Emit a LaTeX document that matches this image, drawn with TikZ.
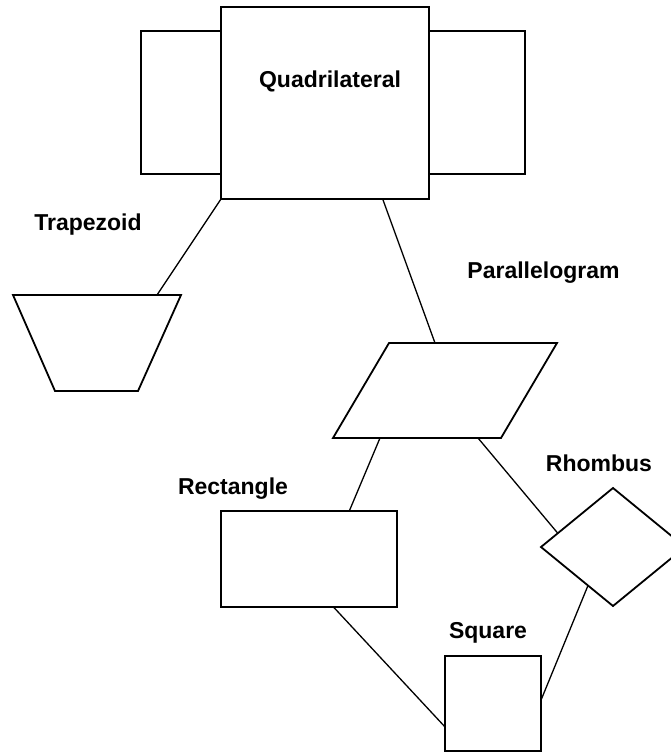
\documentclass[tikz,border=0pt]{standalone}
\usepackage{fontspec}
\setmainfont{Liberation Sans}
\usetikzlibrary{shapes.geometric}
\tikzset{
    boxnode/.style={rectangle, draw, line width=2pt, fill=white, inner sep=0pt, outer sep=0pt},
    slantshape/.style={draw, line width=1.8pt, fill=white, line join=miter},
    rhombnode/.style={diamond, draw, line width=1.8pt, fill=white, inner sep=0pt, outer sep=0pt},
    lbl/.style={anchor=base, font=\fontsize{23}{27}\selectfont\bfseries},
    link/.style={draw, line width=1.3pt},
}
\begin{document}
\begin{tikzpicture}[x=1pt, y=-1pt]
    \clip (0,0) rectangle (671,752);
    % quadrilateral with its two side boxes
    \node[boxnode, minimum width=80pt, minimum height=143pt] (quadleft) at (181,102.5) {};
    \node[boxnode, minimum width=96pt, minimum height=143pt] (quadright) at (477,102.5) {};
    \node[boxnode, minimum width=208pt, minimum height=192pt] (quad) at (325,103) {};
    \node[lbl] (quadlbl) at (330,87) {Quadrilateral};
    % trapezoid and parallelogram, drawn from their corners
    \coordinate (traptl) at (13,295);
    \coordinate (traptr) at (181,295);
    \coordinate (trapbr) at (138,391);
    \coordinate (trapbl) at (55,391);
    \coordinate (trapin) at (157,295);
    \draw[slantshape] (traptl) -- (traptr) -- (trapbr) -- (trapbl) -- cycle;
    \coordinate (paratl) at (389,343);
    \coordinate (paratr) at (557,343);
    \coordinate (parabr) at (501,438);
    \coordinate (parabl) at (333,438);
    \coordinate (parain) at (435,343);
    \coordinate (paraoutl) at (380,438);
    \coordinate (paraoutr) at (478,438);
    \draw[slantshape] (paratl) -- (paratr) -- (parabr) -- (parabl) -- cycle;
    % other shapes
    \node[boxnode, minimum width=176pt, minimum height=96pt] (rect) at (309,559) {};
    \node[rhombnode, minimum width=144pt, minimum height=118pt] (rhomb) at (613,547) {};
    \node[boxnode, minimum width=96pt, minimum height=95pt] (square) at (493,703.5) {};
    % labels
    \node[lbl] (traplbl) at (88,230) {Trapezoid};
    \node[lbl] (paralbl) at (543.5,278) {Parallelogram};
    \node[lbl] (rectlbl) at (233,494) {Rectangle};
    \node[lbl] (rhomblbl) at (599,471) {Rhombus};
    \node[lbl] (squarelbl) at (488,638) {Square};
    % links
    \draw[link] (quad.south west) -- (trapin);
    \draw[link] (quad.-59.3) -- (parain);
    \draw[link] (paraoutl) -- (rect.50);
    \draw[link] (paraoutr) -- (rhomb.166);
    \draw[link] (rect.-63.4) -- (square.206);
    \draw[link] (rhomb.237.7) -- (square.4.2);
\end{tikzpicture}
\end{document}
